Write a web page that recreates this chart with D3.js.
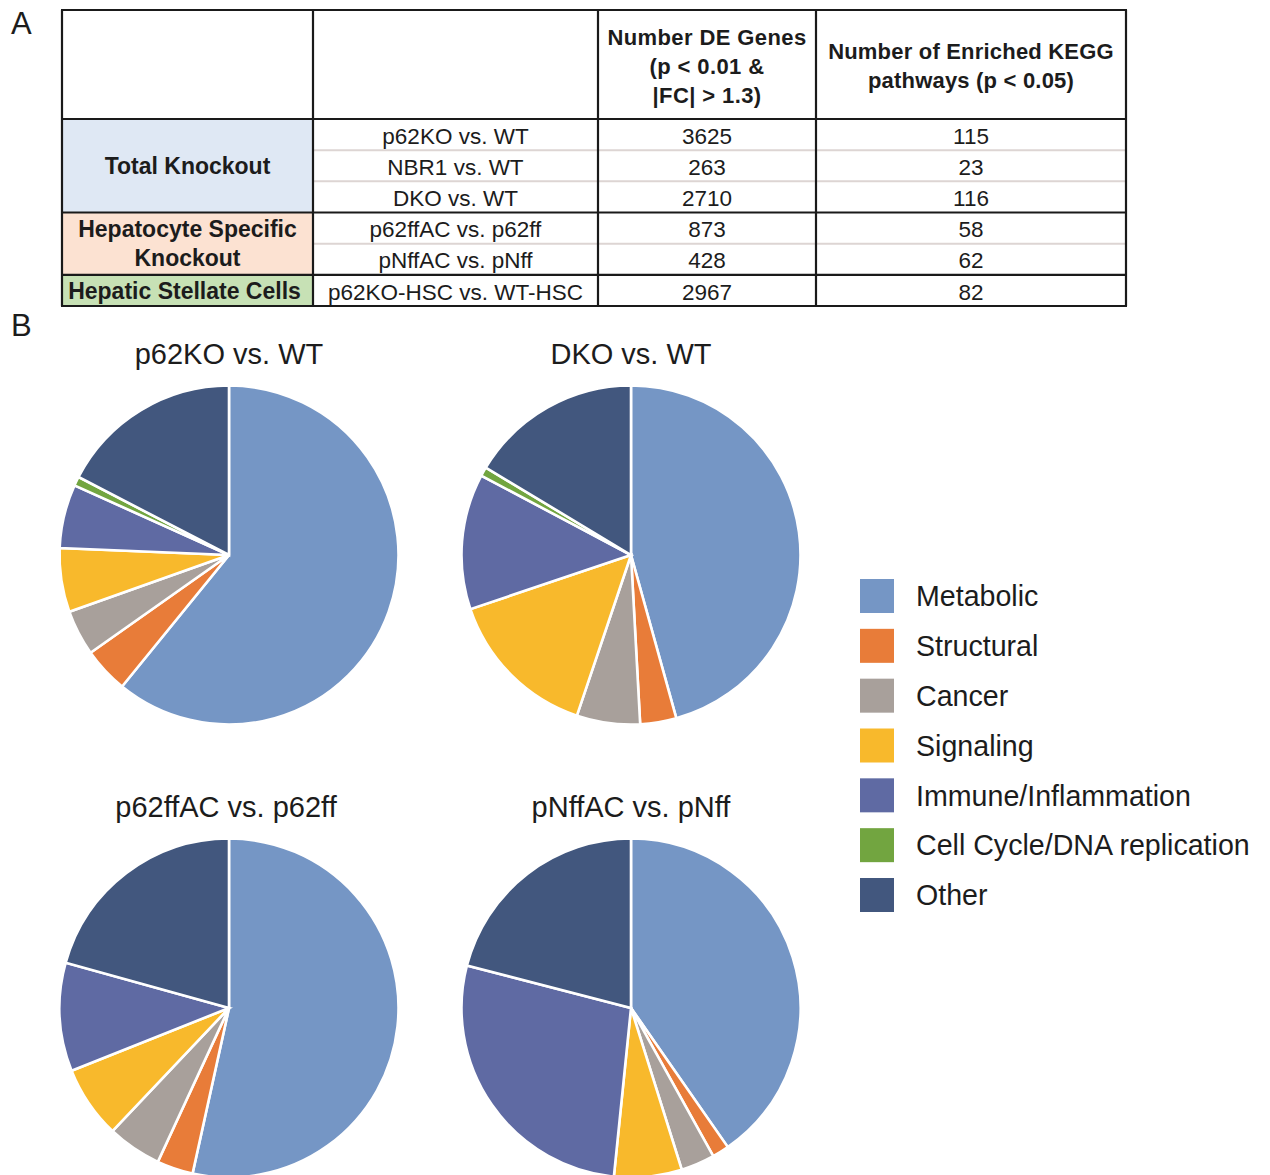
<!DOCTYPE html>
<html>
<head>
<meta charset="utf-8">
<script src="https://cdn.jsdelivr.net/npm/d3@7/dist/d3.min.js"></script>
<style>
  html, body { margin: 0; padding: 0; background: #fff; }
  svg { display: block; }
  text { font-family: "Liberation Sans", Arial, Helvetica, sans-serif; fill: #1c1c1c; }
</style>
</head>
<body>
<svg id="fig" width="1270" height="1175"></svg>
<script>
// ---- Panel A: summary table ----
const groupLabels = [["Total Knockout"], ["Hepatocyte Specific", "Knockout"], ["Hepatic Stellate Cells"]];
const groupRowCounts = [3, 2, 1];
const tableComparisons = ["p62KO vs. WT", "NBR1 vs. WT", "DKO vs. WT", "p62ffAC vs. p62ff", "pNffAC vs. pNff", "p62KO-HSC vs. WT-HSC"];
const deGenes = [3625, 263, 2710, 873, 428, 2967];
const keggPathways = [115, 23, 116, 58, 62, 82];
const headerDE = ["Number DE Genes", "(p < 0.01 &", "|FC| > 1.3)"];
const headerKEGG = ["Number of Enriched KEGG", "pathways (p < 0.05)"];

// ---- Panel B: KEGG pathway categories per comparison ----
const categories = ["Metabolic", "Structural", "Cancer", "Signaling", "Immune/Inflammation", "Cell Cycle/DNA replication", "Other"];
const pieTitles = ["p62KO vs. WT", "DKO vs. WT", "p62ffAC vs. p62ff", "pNffAC vs. pNff"];
const p62koCounts = [70, 5, 5, 7, 7, 1, 20];
const dkoCounts = [53, 4, 7, 17, 15, 1, 19];
const p62ffacCounts = [31, 2, 3, 4, 6, 0, 12];
const pnffacCounts = [25, 1, 2, 4, 17, 0, 13];
const categoryColors = ["#7596c5", "#e87c39", "#a8a09b", "#f8b92c", "#5f6aa3", "#72a540", "#42577e"];

const svg = d3.select("#fig");

// panel letters
svg.append("text").attr("x", 11).attr("y", 34).text("A")
  .style("font-family", "'Liberation Sans Narrow', 'Liberation Sans', Arial, sans-serif")
  .style("font-size", "31px");
svg.append("text").attr("x", 11).attr("y", 336).text("B")
  .style("font-family", "'Liberation Sans Narrow', 'Liberation Sans', Arial, sans-serif")
  .style("font-size", "31px");

// ---------- table ----------
const colX = [62, 313, 598, 816, 1126];
const tableTop = 10;
const headerBottom = 119;
const rowY = d3.scaleLinear().domain([0, 6]).range([headerBottom, 306]);
const rowBounds = d3.range(7).map(i => rowY(i));

const table = svg.append("g");

// group cell backgrounds
const groupFills = ["#dfe8f4", "#fce2d2", "#c7e1b5"];
let startRow = 0;
const groupSpans = groupRowCounts.map(n => { const s = startRow; startRow += n; return [s, s + n]; });
table.selectAll("rect.group").data(groupSpans).join("rect")
  .attr("class", "group")
  .attr("x", colX[0]).attr("y", d => rowBounds[d[0]])
  .attr("width", colX[1] - colX[0]).attr("height", d => rowBounds[d[1]] - rowBounds[d[0]])
  .attr("fill", (d, i) => groupFills[i]);

// light separators between rows inside a group
const innerRows = [];
groupSpans.forEach(([a, b]) => { for (let r = a + 1; r < b; r++) innerRows.push(r); });
table.selectAll("line.inner").data(innerRows).join("line")
  .attr("x1", colX[1]).attr("x2", colX[4])
  .attr("y1", d => rowBounds[d]).attr("y2", d => rowBounds[d])
  .attr("stroke", "#ddd5d3").attr("stroke-width", 2);

// heavy horizontal rules
const heavyRows = [tableTop, headerBottom].concat(groupSpans.map(d => rowBounds[d[1]]));
table.selectAll("line.heavy").data(heavyRows).join("line")
  .attr("x1", colX[0] - 1).attr("x2", colX[4] + 1)
  .attr("y1", d => d).attr("y2", d => d)
  .attr("stroke", "#1a1a1a").attr("stroke-width", 2.2);
table.selectAll("line.vert").data(colX).join("line")
  .attr("x1", d => d).attr("x2", d => d)
  .attr("y1", tableTop).attr("y2", 306)
  .attr("stroke", "#1a1a1a").attr("stroke-width", 2.2);

// header text
const hdr = table.append("g").style("font-weight", "bold").style("font-size", "22px")
  .attr("text-anchor", "middle");
hdr.selectAll("text.de").data(headerDE).join("text")
  .attr("x", (colX[2] + colX[3]) / 2).attr("y", (d, i) => 45 + i * 29)
  .style("letter-spacing", "0.4px").text(d => d);
hdr.selectAll("text.kegg").data(headerKEGG).join("text")
  .attr("x", (colX[3] + colX[4]) / 2).attr("y", (d, i) => 59 + i * 29)
  .style("letter-spacing", "0.2px").text(d => d);

// group labels
const gl = table.append("g").style("font-weight", "bold").style("font-size", "23px").attr("text-anchor", "middle");
groupLabels.forEach((lines, gi) => {
  const [a, b] = groupSpans[gi];
  const cy = (rowBounds[a] + rowBounds[b]) / 2;
  lines.forEach((ln, li) => {
    gl.append("text")
      .attr("x", (colX[0] + colX[1]) / 2 + (gi === 2 ? -3 : 0))
      .attr("y", cy + (li - (lines.length - 1) / 2) * 29)
      .attr("dy", "0.36em").text(ln);
  });
});

// body cells
const body = table.append("g").style("font-size", "22.5px").attr("text-anchor", "middle");
const cols = [tableComparisons, deGenes, keggPathways];
cols.forEach((vals, ci) => {
  body.selectAll(`text.c${ci}`).data(vals).join("text")
    .attr("class", `c${ci}`)
    .attr("x", (colX[ci + 1] + colX[ci + 2]) / 2)
    .attr("y", (d, i) => (rowBounds[i] + rowBounds[i + 1]) / 2 + 1)
    .attr("dy", "0.36em").text(d => d);
});

// ---------- pies ----------
const pieData = [p62koCounts, dkoCounts, p62ffacCounts, pnffacCounts];
const pieCenters = [[229, 555], [631, 555], [229, 1008], [631, 1008]];
const radius = 169.5;
const pie = d3.pie().sort(null).value(d => d.value);
const arc = d3.arc().innerRadius(0).outerRadius(radius);

pieData.forEach((counts, pi) => {
  const [cx, cy] = pieCenters[pi];
  const g = svg.append("g").attr("transform", `translate(${cx},${cy})`);
  const slices = pie(counts.map((v, i) => ({ value: v, cat: i })))
    .filter(d => d.data.value > 0);
  g.selectAll("path").data(slices).join("path")
    .attr("d", arc)
    .attr("fill", d => categoryColors[d.data.cat])
    .attr("stroke", "#fff").attr("stroke-width", 2.6)
    .attr("stroke-linejoin", "miter");
  svg.append("text")
    .attr("x", cx - (pi === 2 ? 3 : 0)).attr("y", cy - radius - 22)
    .attr("text-anchor", "middle")
    .style("font-size", "29px")
    .text(pieTitles[pi]);
});

// ---------- legend ----------
const legendY = d3.scalePoint().domain(categories).range([596, 895]);
const legend = svg.append("g");
const items = legend.selectAll("g").data(categories).join("g")
  .attr("transform", d => `translate(860,${legendY(d)})`);
items.append("rect")
  .attr("x", 0).attr("y", -17).attr("width", 34).attr("height", 34)
  .attr("fill", (d, i) => categoryColors[i]);
items.append("text")
  .attr("x", 56).attr("y", 0).attr("dy", "0.36em")
  .style("font-size", "28.6px")
  .text(d => d);
</script>
</body>
</html>
